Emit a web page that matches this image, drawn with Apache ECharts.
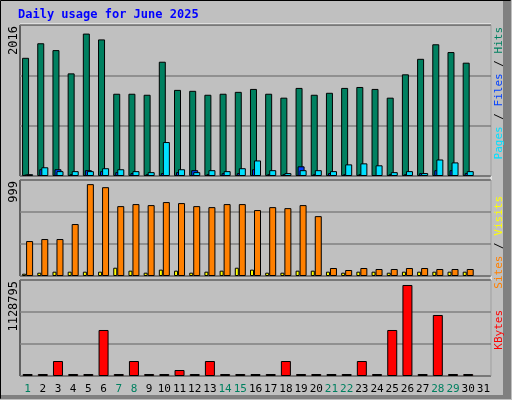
<!DOCTYPE html>
<html><head><meta charset="utf-8">
<script src="https://cdn.jsdelivr.net/npm/echarts@6/dist/echarts.min.js"></script>
<style>html,body{margin:0;padding:0;background:#c0c0c0}#c{width:512px;height:400px}</style>
</head><body><div id="c"></div>
<script>
const days = Array.from({length:31},(_,i)=>String(i+1));
const weekendDays = ['1','7','8','14','15','21','22','28','29'];
const hits = [1625,1825,1731,1411,1958,1878,1131,1131,1117,1571,1184,1171,1117,1131,1157,1197,1131,1077,1211,1117,1144,1211,1224,1197,1077,1398,1611,1811,1704,1558,0];
const files = [20,93,93,25,80,67,53,40,25,40,53,80,25,40,40,93,25,25,133,25,40,25,25,10,25,25,40,80,80,40,0];
const pages = [25,120,67,67,67,107,93,67,53,467,93,53,80,67,107,214,80,40,80,80,67,160,174,147,53,67,40,227,187,67,0];
const visits = [25,36,47,47,47,47,90,58,36,69,58,36,47,58,90,69,36,36,58,58,47,36,47,47,36,47,47,47,47,47,0];
const sites = [380,402,402,565,999,966,760,782,771,804,793,760,749,782,782,717,749,738,771,651,87,65,87,76,76,87,87,76,76,76,0];
const kbytes = [8000,8000,186000,8000,8000,570600,8000,186000,8000,8000,74400,8000,186000,8000,8000,8000,8000,186000,8000,8000,8000,8000,186000,8000,570600,1128795,8000,756700,8000,8000,0];
const maxLabels = ['2016','999','1128795'];

const F = 'DejaVu Sans Mono';
const border = {borderColor:'#000',borderWidth:1};
const nz = a=>a.map(v=>v===0?'-':v);
const grids = [
  {left:20,width:471,top:25,height:151},
  {left:20,width:471,top:180,height:96},
  {left:20,width:471,top:280,height:96}
].map(g=>Object.assign(g,{show:true,borderColor:'#000',borderWidth:1,backgroundColor:'transparent'}));
const xAxes = [0,1,2].map(i=>({
  type:'category',data:days,gridIndex:i,
  axisLine:{show:false},axisTick:{show:false},
  axisLabel:{show:i===2,interval:0,margin:8,fontFamily:F,fontSize:11,
    formatter:v=>weekendDays.includes(v)?'{g|'+v+'}':'{k|'+v+'}',
    rich:{g:{color:'#008060',fontFamily:F,fontSize:11},k:{color:'#000',fontFamily:F,fontSize:11}}}
}));
const yMax=[2076,1044,1190799];
const yAxes = [0,1,2].map(i=>({
  type:'value',gridIndex:i,min:0,max:yMax[i],interval:yMax[i]/3,
  axisLabel:{show:false},axisLine:{show:false},axisTick:{show:false},
  splitLine:{lineStyle:{color:'#808080',width:1.5}}
}));
const series = [
  {name:'Hits',type:'bar',xAxisIndex:0,yAxisIndex:0,data:nz(hits),barWidth:7,barGap:'-71%',itemStyle:Object.assign({color:'#008060'},border)},
  {name:'Files',type:'bar',xAxisIndex:0,yAxisIndex:0,data:nz(files),barWidth:7,barGap:'-71%',barMinHeight:1,itemStyle:Object.assign({color:'#0040ff'},border)},
  {name:'Pages',type:'bar',xAxisIndex:0,yAxisIndex:0,data:nz(pages),barWidth:7,barGap:'-71%',barMinHeight:1,itemStyle:Object.assign({color:'#00e0ff'},border)},
  {name:'Visits',type:'bar',xAxisIndex:1,yAxisIndex:1,data:nz(visits),barWidth:4,barGap:'0%',itemStyle:Object.assign({color:'#ffff00'},border)},
  {name:'Sites',type:'bar',xAxisIndex:1,yAxisIndex:1,data:nz(sites),barWidth:7,barGap:'0%',itemStyle:Object.assign({color:'#ff8000'},border)},
  {name:'KBytes',type:'bar',xAxisIndex:2,yAxisIndex:2,data:nz(kbytes),barWidth:10,barMinHeight:2,itemStyle:Object.assign({color:'#ff0000'},border)}
];
const tops=[25,180,280];
const graphic = [
  {type:'rect',shape:{x:0.5,y:0.5,width:510,height:398},style:{fill:'none',stroke:'#000',lineWidth:1}},
  {type:'rect',shape:{x:503,y:1,width:8,height:398},style:{fill:'#808080'}},
  {type:'rect',shape:{x:1,y:395,width:510,height:4},style:{fill:'#808080'}},
  {type:'text',x:18,y:9,style:{text:'Daily usage for June 2025',fill:'#0000ff',font:'bold 12px '+F}},
  {type:'line',shape:{x1:491,y1:25,x2:491,y2:376},style:{stroke:'#fff',lineWidth:1}},
  {type:'line',shape:{x1:20,y1:24,x2:491,y2:24},style:{stroke:'#fff',lineWidth:1}}
];
maxLabels.forEach((t,i)=>graphic.push({type:'text',x:14,y:tops[i]+1,rotation:Math.PI/2,
  style:{text:t,fill:'#000',font:'12px '+F,align:'right',verticalAlign:'middle'}}));
const rl=[
  {y:27,text:'{c|Pages} / {b|Files} / {h|Hits}'},
  {y:196,text:'{o|Sites} / {y|Visits}'},
  {y:310,text:'{r|KBytes}'}
];
rl.forEach(r=>graphic.push({type:'text',x:499,y:r.y,rotation:Math.PI/2,
  style:{text:r.text,fill:'#000',font:'11px '+F,align:'right',verticalAlign:'middle',
  rich:{c:{fill:'#00e0ff',font:'11px '+F},b:{fill:'#0040ff',font:'11px '+F},h:{fill:'#008060',font:'11px '+F},
        o:{fill:'#ff8000',font:'11px '+F},y:{fill:'#ffff00',font:'11px '+F},r:{fill:'#ff0000',font:'11px '+F}}}}));
const chart = echarts.init(document.getElementById('c'),null,{renderer:'canvas'});
chart.setOption({backgroundColor:'#c0c0c0',animation:false,grid:grids,xAxis:xAxes,yAxis:yAxes,series,graphic});
</script></body></html>
